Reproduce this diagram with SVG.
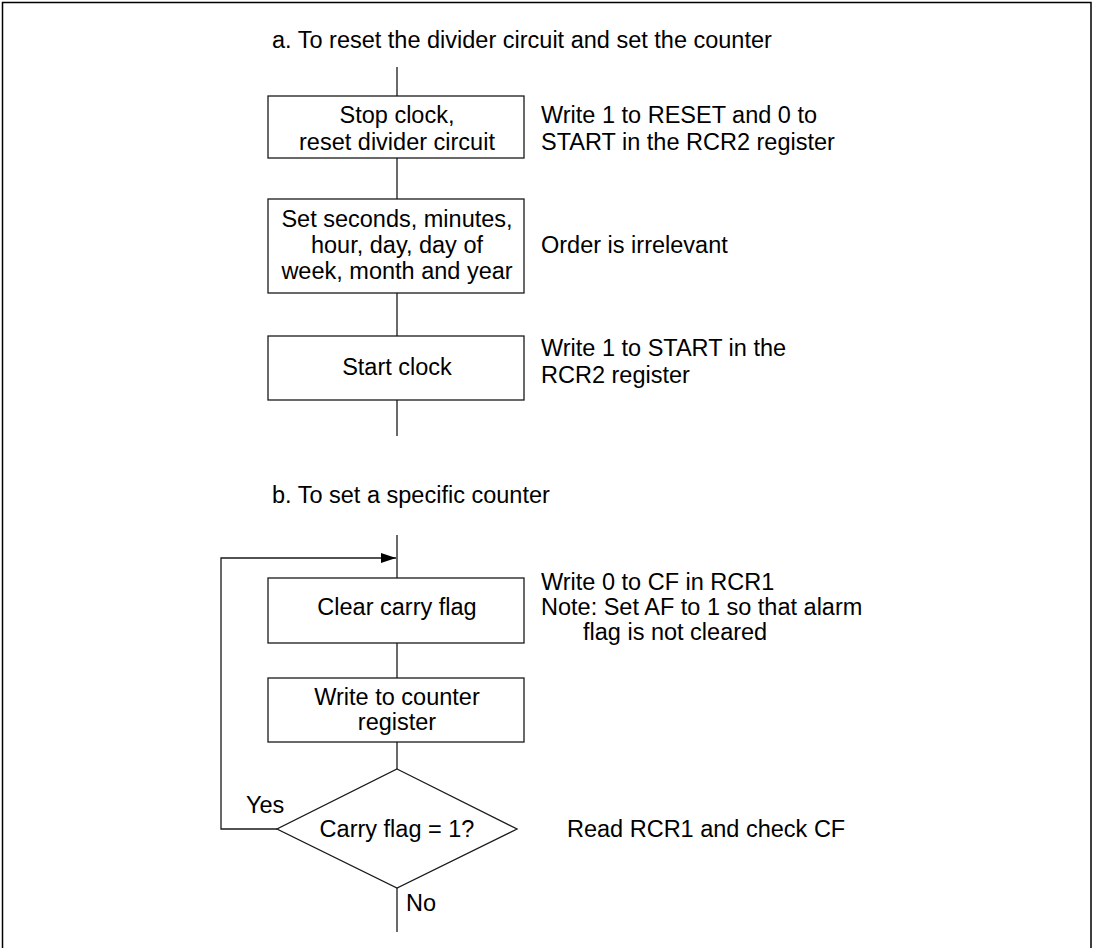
<svg xmlns="http://www.w3.org/2000/svg" width="1094" height="948" viewBox="0 0 1094 948">
<defs>
<style>
text{font-family:"Liberation Sans",Arial,sans-serif;font-size:23.5px;fill:#000}
.c{text-anchor:middle}
.box{fill:#fff;stroke:#1a1a1a;stroke-width:1.3}
.ln{fill:none;stroke:#1a1a1a;stroke-width:1.3}
</style>
<marker id="ah" markerWidth="16" markerHeight="10" refX="15" refY="5" orient="auto" markerUnits="userSpaceOnUse">
<path d="M0,0 L15,5 L0,10 Z" fill="#000"/>
</marker>
</defs>
<rect x="0" y="0" width="1094" height="948" fill="#fff"/>
<rect x="2.5" y="2.5" width="1088.5" height="1000" fill="none" stroke="#000" stroke-width="1.5"/>
<text x="272" y="48">a. To reset the divider circuit and set the counter</text>
<text x="272" y="503">b. To set a specific counter</text>
<g id="connectors">
<line class="ln" x1="397" y1="67" x2="397" y2="96"/>
<line class="ln" x1="397" y1="158" x2="397" y2="199"/>
<line class="ln" x1="397" y1="293" x2="397" y2="336"/>
<line class="ln" x1="397" y1="400" x2="397" y2="436"/>
<line class="ln" x1="397" y1="535" x2="397" y2="578"/>
<line class="ln" x1="397" y1="643" x2="397" y2="678"/>
<line class="ln" x1="397" y1="742" x2="397" y2="769"/>
<line class="ln" x1="397" y1="888" x2="397" y2="932"/>
<polyline class="ln" points="277,829 221,829 221,558 396,558" marker-end="url(#ah)"/>
</g>
<g id="n1">
<rect class="box" x="268" y="96" width="256" height="62"/>
<text class="c" x="397" y="123">Stop clock,</text>
<text class="c" x="397" y="150">reset divider circuit</text>
</g>
<g id="a1">
<text x="541" y="123">Write 1 to RESET and 0 to</text>
<text x="541" y="150">START in the RCR2 register</text>
</g>
<g id="n2">
<rect class="box" x="268" y="199" width="256" height="94"/>
<text class="c" x="397" y="227">Set seconds, minutes,</text>
<text class="c" x="397" y="253">hour, day, day of</text>
<text class="c" x="397" y="279">week, month and year</text>
</g>
<g id="a2"><text x="541" y="253">Order is irrelevant</text></g>
<g id="n3">
<rect class="box" x="268" y="336" width="256" height="64"/>
<text class="c" x="397" y="375">Start clock</text>
</g>
<g id="a3">
<text x="541" y="356">Write 1 to START in the</text>
<text x="541" y="383">RCR2 register</text>
</g>
<g id="n4">
<rect class="box" x="268" y="578" width="256" height="65"/>
<text class="c" x="397" y="615">Clear carry flag</text>
</g>
<g id="a4">
<text x="541" y="590">Write 0 to CF in RCR1</text>
<text x="541" y="615">Note: Set AF to 1 so that alarm</text>
<text x="583" y="640">flag is not cleared</text>
</g>
<g id="n5">
<rect class="box" x="268" y="678" width="256" height="64"/>
<text class="c" x="397" y="705">Write to counter</text>
<text class="c" x="397" y="730">register</text>
</g>
<g id="n6">
<polygon class="box" points="397,769 517,829 397,888 277,829"/>
<text class="c" x="397" y="837">Carry flag = 1?</text>
</g>
<g id="a6"><text x="567" y="837">Read RCR1 and check CF</text></g>
<text x="246" y="813">Yes</text>
<text x="406" y="911">No</text>
</svg>
